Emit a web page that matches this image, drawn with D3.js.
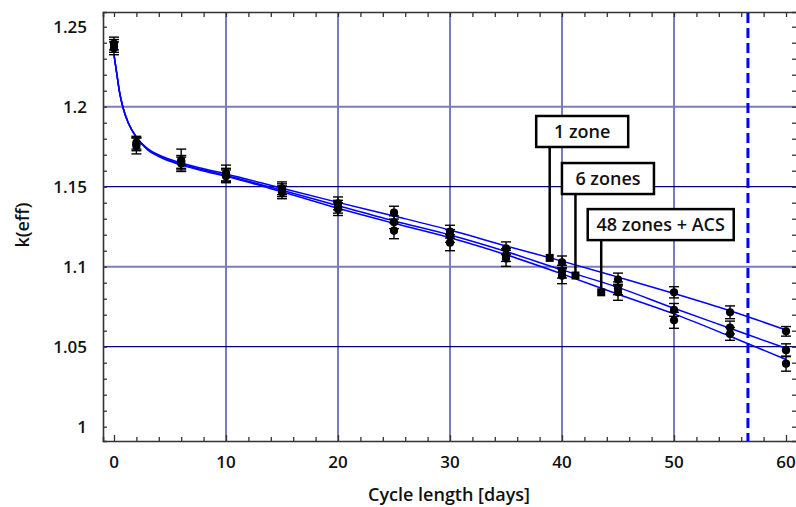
<!DOCTYPE html>
<html>
<head>
<meta charset="utf-8">
<script src="https://cdn.jsdelivr.net/npm/d3@7"></script>
<style>
  body { margin: 0; background: #fff; }
  text { font-family: "Open Sans", sans-serif; font-weight: 600; fill: #111; }
</style>
</head>
<body>
<script>
// measured points (days vs k-eff), one array per model
const days = [0, 2, 6, 10, 15, 20, 25, 30, 35, 40, 45, 50, 55, 60];
const kOneZone = [1.2395, 1.1775, 1.1665, 1.1585, 1.149, 1.1396, 1.1338, 1.1219, 1.1115, 1.1027, 1.092, 1.084, 1.0715, 1.0596];
const kSixZones = [1.238, 1.1765, 1.1655, 1.1575, 1.1478, 1.1375, 1.1278, 1.1192, 1.1073, 1.0969, 1.0865, 1.073, 1.062, 1.0478];
const kAcsZones = [1.2365, 1.1755, 1.1645, 1.1565, 1.1465, 1.136, 1.1225, 1.115, 1.1052, 1.0944, 1.084, 1.0665, 1.058, 1.0394];
const errOneZone = [0.004, 0.004, 0.007, 0.005, 0.004, 0.004, 0.004, 0.004, 0.004, 0.004, 0.004, 0.0035, 0.004, 0.003];
const errSixZones = [0.004, 0.004, 0.004, 0.004, 0.004, 0.004, 0.004, 0.004, 0.004, 0.004, 0.004, 0.004, 0.004, 0.004];
const errAcsZones = [0.004, 0.005, 0.004, 0.004, 0.004, 0.004, 0.005, 0.005, 0.005, 0.005, 0.005, 0.005, 0.004, 0.0047];

// fitted curves
const fitDays = [0, 0.25, 0.5, 0.8, 1.3, 2, 3, 4, 6, 8, 10, 15, 20, 25, 30, 35, 40, 45, 50, 55, 60];
const fitOneZone = [1.2325, 1.2205, 1.209, 1.1995, 1.1895, 1.181, 1.1738, 1.1698, 1.1648, 1.1612, 1.158, 1.149, 1.1402, 1.1317, 1.1229, 1.113, 1.1035, 1.0935, 1.0833, 1.0725, 1.0604];
const fitSixZones = [1.2325, 1.2205, 1.209, 1.1995, 1.1895, 1.181, 1.1733, 1.1692, 1.164, 1.1605, 1.157, 1.1478, 1.1381, 1.1286, 1.1198, 1.1095, 1.098, 1.0871, 1.074, 1.0615, 1.049];
const fitAcsZones = [1.2325, 1.2205, 1.209, 1.1995, 1.1895, 1.181, 1.173, 1.1688, 1.1635, 1.1598, 1.1565, 1.1468, 1.1365, 1.1271, 1.1181, 1.1075, 1.0955, 1.0828, 1.0705, 1.0565, 1.042];

// labels, their marker on the curve and the k value of the box top
const labelNames = ["1 zone", "6 zones", "48 zones + ACS"];
const markerDays = [38.9, 41.2, 43.5];
const markerK = [1.1055, 1.0945, 1.084];
const labelTopK = [1.1942, 1.1648, 1.136];

const cycleLimit = 56.6;
const xTicks = [0, 10, 20, 30, 40, 50, 60];
const yTicks = [1, 1.05, 1.1, 1.15, 1.2, 1.25];

let margin = null, width = null, height = null;
let svg = null, plot = null;
let x, y = null;

setupCanvasSize();
appendSvg("body");
setupScales();
appendGrid();
appendFrame();
appendCurves();
appendPoints();
appendLimitLine();
appendLabels();
appendAxisTitles();

function setupCanvasSize() {
  margin = {top: 12, left: 103, bottom: 66, right: -1};
  width = 796 - margin.left - margin.right;
  height = 507 - margin.top - margin.bottom;
}

function appendSvg(domElement) {
  svg = d3.select(domElement).append("svg")
    .attr("width", 796)
    .attr("height", 507);
  plot = svg.append("g")
    .attr("transform", `translate(${margin.left}, ${margin.top})`);
}

function setupScales() {
  x = d3.scaleLinear().domain([-0.982, 60.98]).range([0, width]);
  y = d3.scaleLinear().domain([0.99106, 1.2592]).range([height, 0]);
}

function appendGrid() {
  const lavender = "#7b7bbd";
  plot.selectAll(".vgrid")
    .data([10, 20, 30, 40, 50])
    .enter().append("line")
    .attr("x1", d => x(d)).attr("x2", d => x(d))
    .attr("y1", 0).attr("y2", height)
    .attr("stroke", lavender).attr("stroke-width", 2);

  plot.selectAll(".hgrid")
    .data([1.05, 1.1, 1.15, 1.2])
    .enter().append("line")
    .attr("x1", 0).attr("x2", width)
    .attr("y1", d => y(d)).attr("y2", d => y(d))
    .attr("stroke", d => (Math.round(d * 100) % 10 === 0) ? lavender : "#00007a")
    .attr("stroke-width", d => (Math.round(d * 100) % 10 === 0) ? 2 : 1.3);
}

function appendFrame() {
  const axisColor = "#333";
  // inward ticks on every side
  const bottom = d3.axisBottom(x).tickValues(d3.range(0, 61, 2)).tickSize(-4).tickFormat("");
  const top = d3.axisTop(x).tickValues(d3.range(0, 61, 2)).tickSize(-5).tickFormat("");
  const left = d3.axisLeft(y).tickValues(d3.range(1, 1.2501, 0.01)).tickSize(-4).tickFormat("");
  const right = d3.axisRight(y).tickValues(d3.range(1, 1.2501, 0.01)).tickSize(-5).tickFormat("");

  const gb = plot.append("g").attr("transform", `translate(0, ${height})`).call(bottom);
  const gt = plot.append("g").call(top);
  const gl = plot.append("g").call(left);
  const gr = plot.append("g").attr("transform", `translate(${width}, 0)`).call(right);
  [gb, gt, gl, gr].forEach(g => {
    g.select(".domain").attr("stroke", axisColor).attr("stroke-width", 1.6);
    g.selectAll(".tick line").attr("stroke", axisColor).attr("stroke-width", 1.3);
  });
  gb.selectAll(".tick line").filter(d => d % 10 === 0).attr("y2", -6);

  // tick labels
  plot.selectAll(".xlab")
    .data(xTicks)
    .enter().append("text")
    .attr("x", d => x(d))
    .attr("y", height + 27)
    .attr("text-anchor", "middle")
    .style("font-size", "17px")
    .text(d => d);

  plot.selectAll(".ylab")
    .data(yTicks)
    .enter().append("text")
    .attr("x", -16)
    .attr("y", d => y(d) + 6)
    .attr("text-anchor", "end")
    .style("font-size", "17px")
    .text(d => d);
}

function appendCurves() {
  const line = d3.line()
    .x(d => x(d[0]))
    .y(d => y(d[1]))
    .curve(d3.curveMonotoneX);
  [fitOneZone, fitSixZones, fitAcsZones].forEach(series => {
    plot.append("path")
      .datum(fitDays.map((d, i) => [d, series[i]]))
      .attr("d", line)
      .attr("fill", "none")
      .attr("stroke", "#0000ff")
      .attr("stroke-width", 1.5);
  });
}

function appendPoints() {
  const all = [];
  [[kOneZone, errOneZone], [kSixZones, errSixZones], [kAcsZones, errAcsZones]].forEach(pair => {
    days.forEach((d, i) => all.push({day: d, k: pair[0][i], err: pair[1][i]}));
  });

  const g = plot.selectAll(".pt")
    .data(all)
    .enter().append("g");

  g.append("line")
    .attr("x1", d => x(d.day)).attr("x2", d => x(d.day))
    .attr("y1", d => y(d.k + d.err)).attr("y2", d => y(d.k - d.err))
    .attr("stroke", "#000").attr("stroke-width", 1.4);
  g.append("line")
    .attr("x1", d => x(d.day) - 5).attr("x2", d => x(d.day) + 5)
    .attr("y1", d => y(d.k + d.err)).attr("y2", d => y(d.k + d.err))
    .attr("stroke", "#000").attr("stroke-width", 1.4);
  g.append("line")
    .attr("x1", d => x(d.day) - 5).attr("x2", d => x(d.day) + 5)
    .attr("y1", d => y(d.k - d.err)).attr("y2", d => y(d.k - d.err))
    .attr("stroke", "#000").attr("stroke-width", 1.4);
  g.append("circle")
    .attr("cx", d => x(d.day))
    .attr("cy", d => y(d.k))
    .attr("r", 4.1)
    .attr("fill", "#000");
}

function appendLimitLine() {
  plot.append("line")
    .attr("x1", x(cycleLimit)).attr("x2", x(cycleLimit))
    .attr("y1", 1).attr("y2", height)
    .attr("stroke", "#0000ff")
    .attr("stroke-width", 3)
    .attr("stroke-dasharray", "10,5");
}

function appendLabels() {
  const boxWidths = [92, 92, 146];
  labelNames.forEach((name, i) => {
    const mx = x(markerDays[i]);
    const my = y(markerK[i]);
    const top = y(labelTopK[i]);
    const w = boxWidths[i];
    const bx = mx - 13.5;
    const g = plot.append("g");

    g.append("rect")
      .attr("x", bx).attr("y", top)
      .attr("width", w).attr("height", 31)
      .attr("fill", "#fff")
      .attr("stroke", "#000")
      .attr("stroke-width", 2.5);

    g.append("text")
      .attr("x", bx + w / 2)
      .attr("y", top + 22)
      .attr("text-anchor", "middle")
      .style("font-size", "18px")
      .text(name);

    g.append("line")
      .attr("x1", mx).attr("x2", mx)
      .attr("y1", top + 31).attr("y2", my)
      .attr("stroke", "#000").attr("stroke-width", 2.5);
    g.append("rect")
      .attr("x", mx - 4).attr("y", my - 4)
      .attr("width", 8).attr("height", 8)
      .attr("fill", "#000");
  });
}

function appendAxisTitles() {
  svg.append("text")
    .attr("x", 449)
    .attr("y", 501)
    .attr("text-anchor", "middle")
    .style("font-size", "18px")
    .text("Cycle length [days]");

  svg.append("text")
    .attr("transform", "translate(29, 225) rotate(-90)")
    .attr("text-anchor", "middle")
    .style("font-size", "18px")
    .text("k(eff)");
}
</script>
</body>
</html>
